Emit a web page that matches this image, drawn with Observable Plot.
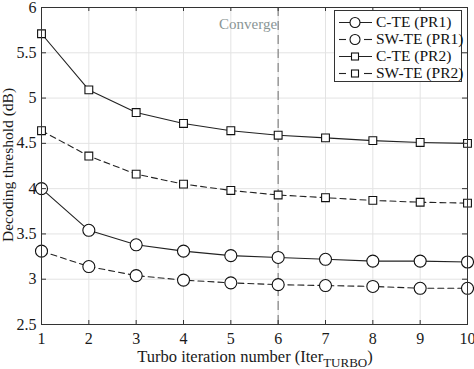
<!DOCTYPE html>
<html><head><meta charset="utf-8">
<script src="https://cdn.jsdelivr.net/npm/d3@7"></script>
<script src="https://cdn.jsdelivr.net/npm/@observablehq/plot@0.6"></script>
<style>
body{margin:0;background:#fff;}
#wrap{position:relative;width:474px;height:369px;font-family:"Liberation Serif","Times New Roman",serif;}
#legend{position:absolute;left:334px;top:10px;width:128px;height:72px;border:1px solid #333;background:#fff;box-sizing:border-box;}
.row{position:absolute;left:0;height:17px;display:flex;align-items:center;font-size:15.5px;color:#111;white-space:nowrap;}
.row svg{margin-right:1px;}
</style></head>
<body><div id="wrap"></div>
<script>
const iterations = [1,2,3,4,5,6,7,8,9,10];
const cte_pr1  = [4.00,3.54,3.38,3.31,3.26,3.24,3.22,3.20,3.20,3.19];
const swte_pr1 = [3.31,3.14,3.04,2.99,2.96,2.94,2.93,2.92,2.90,2.90];
const cte_pr2  = [5.71,5.09,4.84,4.72,4.64,4.59,4.56,4.53,4.51,4.50];
const swte_pr2 = [4.64,4.36,4.16,4.05,3.98,3.93,3.90,3.87,3.85,3.84];
const seriesNames = ["C-TE (PR1)","SW-TE (PR1)","C-TE (PR2)","SW-TE (PR2)"];
const seriesVals = [cte_pr1, swte_pr1, cte_pr2, swte_pr2];
const seriesSymbol = ["circle","circle","square","square"];
const seriesDash = [null,"6,4",null,"6,4"];
const xTicks = [1,2,3,4,5,6,7,8,9,10];
const yTicks = [2.5,3,3.5,4,4.5,5,5.5,6];
const convergeX = 6;
const convergeLabel = "Converge";

const data = [];
seriesNames.forEach((s,i)=>iterations.forEach((x,j)=>data.push({series:s, x, y:seriesVals[i][j], idx:i})));

const marks = [
  Plot.ruleX(xTicks, {stroke:"#e3e3e3", strokeWidth:1}),
  Plot.ruleY(yTicks, {stroke:"#e3e3e3", strokeWidth:1}),
  Plot.ruleX([convergeX], {stroke:"#8c8c8c", strokeWidth:1.3, strokeDasharray:"9,5"}),
  Plot.text([convergeLabel], {x:()=>convergeX, y:()=>6, frameAnchor:"top", textAnchor:"end", dx:-1, dy:11, fill:"#8a9595", fontSize:15, fontFamily:"Liberation Serif, serif"}),
];
seriesNames.forEach((s,i)=>{
  const d = data.filter(e=>e.idx===i);
  marks.push(Plot.line(d, {x:"x", y:"y", stroke:"#222", strokeWidth:1.1, strokeDasharray:seriesDash[i]}));
  marks.push(Plot.dot(d, {x:"x", y:"y", symbol:seriesSymbol[i], r: seriesSymbol[i]==="circle"?6:4.4, stroke:"#111", strokeWidth:1.1, fill:"white"}));
});
// inward ticks
marks.push(Plot.tickX(xTicks, {x:d=>d, stroke:"#333", insetTop:313}));
marks.push(Plot.tickX(xTicks, {x:d=>d, stroke:"#333", insetBottom:313}));
marks.push(Plot.tickY(yTicks, {y:d=>d, stroke:"#333", insetRight:421}));
marks.push(Plot.tickY(yTicks, {y:d=>d, stroke:"#333", insetLeft:421}));
marks.push(Plot.frame({stroke:"#333", strokeWidth:1}));
marks.push(Plot.axisX(xTicks, {tickSize:0, tickPadding:8, label:null, fontSize:16, fill:"#1a1a1a"}));
marks.push(Plot.axisY(yTicks, {tickSize:0, tickPadding:5, label:null, fontSize:16, fill:"#1a1a1a", tickFormat:d=>String(d)}));

const chart = Plot.plot({
  width:474, height:369,
  marginLeft:41, marginRight:7, marginTop:7, marginBottom:45,
  x:{domain:[1,10]},
  y:{domain:[2.5,6]},
  style:{fontFamily:"Liberation Serif, Times New Roman, serif", fontSize:"16px", color:"#1a1a1a", background:"white", overflow:"visible"},
  marks
});
const svg = d3.select(chart);
const xl = svg.append("text").attr("x",255).attr("y",362).attr("text-anchor","middle")
  .attr("font-size","16.5px").attr("fill","#1a1a1a").attr("font-family","Liberation Serif, serif");
xl.append("tspan").text("Turbo iteration number (Iter");
xl.append("tspan").attr("dy",5).attr("font-size","13px").text("TURBO");
xl.append("tspan").attr("dy",-5).text(")");
svg.append("text").attr("transform","translate(13,165) rotate(-90)").attr("text-anchor","middle")
  .attr("font-size","15.5px").attr("fill","#1a1a1a").attr("font-family","Liberation Serif, serif")
  .text("Decoding threshold (dB)");

const wrap = document.getElementById("wrap");
wrap.appendChild(chart);
const leg = document.createElement("div"); leg.id="legend";
seriesNames.forEach((s,i)=>{
  const row = document.createElement("div"); row.className="row"; row.style.top=(2.5+i*17)+"px";
  const sym = seriesSymbol[i]==="circle" ? '<circle cx="20" cy="8.5" r="5" fill="white" stroke="#111" stroke-width="1.1"/>' : '<rect x="16.5" y="5" width="7" height="7" fill="white" stroke="#111" stroke-width="1.1"/>';
  const line = seriesDash[i] ? '<line x1="4" x2="11" y1="8.5" y2="8.5" stroke="#222" stroke-width="1.1"/><line x1="29" x2="37" y1="8.5" y2="8.5" stroke="#222" stroke-width="1.1"/>' : '<line x1="4" x2="37" y1="8.5" y2="8.5" stroke="#222" stroke-width="1.1"/>';
  row.innerHTML = '<svg width="40" height="17">'+line+sym+'</svg><span>'+s+'</span>';
  leg.appendChild(row);
});
wrap.appendChild(leg);
</script></body></html>
